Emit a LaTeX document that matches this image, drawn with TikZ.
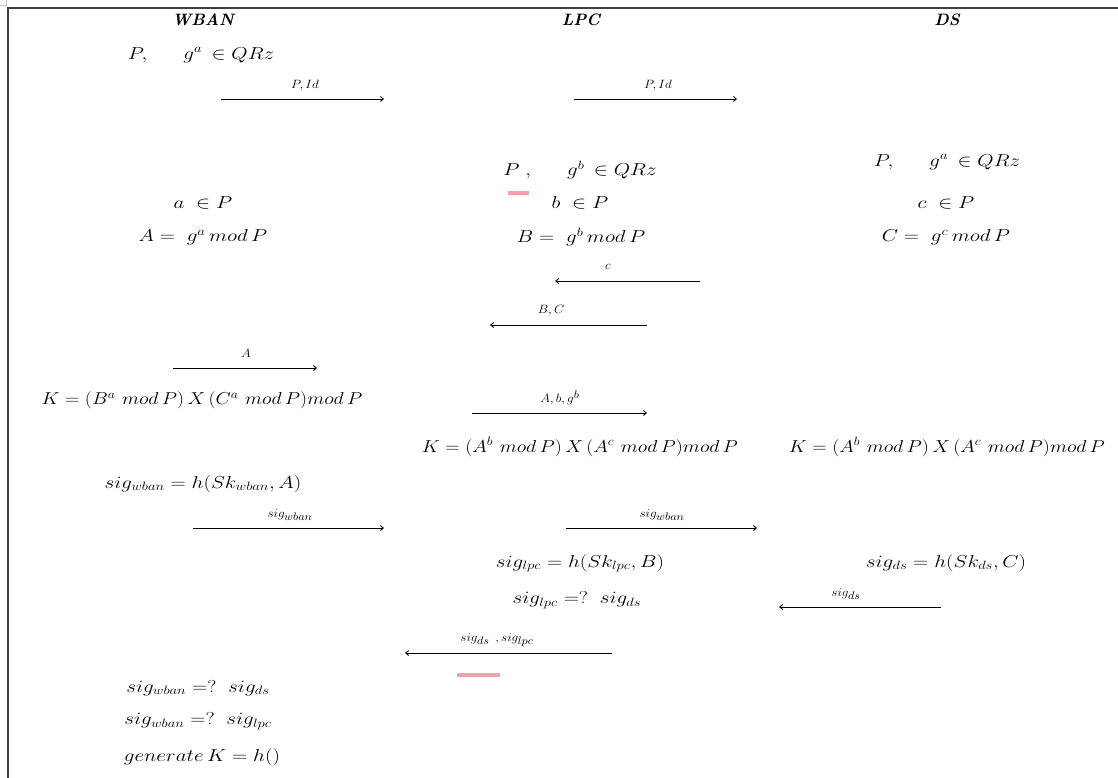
\documentclass[tikz,border=0pt]{standalone}
\usetikzlibrary{arrows.meta}
\DeclareMathSizes{17}{17}{13}{10}
\DeclareMathSizes{12}{12}{10.5}{8}
\definecolor{framegray}{HTML}{3F3F3F}
\definecolor{markgray}{HTML}{C8C8C8}
\definecolor{flagpink}{HTML}{F2A2AD}
\tikzset{
  txt/.style={font=\fontsize{17}{19}\selectfont, inner sep=0pt, anchor=center, xscale=1.22, transform shape},
  keyf/.style={font=\fontsize{17}{19}\selectfont, inner sep=0pt, anchor=center, xscale=1.15, transform shape},
  head/.style={font=\fontsize{16.5}{18}\selectfont\bfseries\itshape, inner sep=0pt},
  lbl/.style={font=\fontsize{12}{13}\selectfont, inner sep=0pt, xscale=1.1, transform shape},
  msg/.style={-{Straight Barb[length=3pt,width=5pt]}, line width=0.9pt, black},
  flag/.style={fill=flagpink, draw=none}
}
\begin{document}
\begin{tikzpicture}[x=1pt,y=-1pt]
\useasboundingbox (0,0) rectangle (1118,778);
% frame and corner mark
\draw[markgray, line width=1pt] (0,6) -- (7,6) (6,0) -- (6,7);
\draw[framegray, line width=2pt] (8,778) -- (8,8) -- (1118,8);

% party headings
\node[head] (hw) at (203,20) {WBAN};
\node[head] (hl) at (581,20) {LPC};
\node[head] (hd) at (947,20) {DS};

% WBAN column
\node[txt] (w1) at (201,55) {$P,\quad\;\; g^{a}\,\in QRz$};
\node[txt] (w2) at (203,203) {$a\;\in P$};
\node[txt] (w3) at (203,237) {$A =\; g^{a}\,mod\,P$};
\node[keyf] (w4) at (202,400) {$K = (B^{a}\,\,mod\,P)\,X\,(C^{a}\,\,mod\,P)mod\,P$};
\node[txt] (w5) at (203,484) {$sig_{wban} = h(Sk_{wban},A)$};
\node[txt] (w6) at (198,688) {$sig_{wban} \mathrel{=?}\; sig_{ds}$};
\node[txt] (w7) at (198,721) {$sig_{wban} \mathrel{=?}\; sig_{lpc}$};
\node[txt] (w8) at (202,757) {$generate\,K = h()$};

% LPC column
\node[txt] (l1) at (580,170) {$P\;,\quad\;\; g^{b}\,\in QRz$};
\node[txt] (l2) at (580,203) {$b\;\in P$};
\node[txt] (l3) at (581,237) {$B =\; g^{b}\,mod\,P$};
\node[keyf] (l4) at (580,447) {$K = (A^{b}\,\,mod\,P)\,X\,(A^{c}\,\,mod\,P)mod\,P$};
\node[txt] (l5) at (580,563) {$sig_{lpc} = h(Sk_{lpc},B)$};
\node[txt] (l6) at (577,600) {$sig_{lpc} \mathrel{=?}\; sig_{ds}$};

% DS column
\node[txt] (d1) at (947,162) {$P,\quad\;\; g^{a}\,\in QRz$};
\node[txt] (d2) at (946,203) {$c\;\in P$};
\node[txt] (d3) at (946,237) {$C =\; g^{c}\,mod\,P$};
\node[keyf] (d4) at (947,447) {$K = (A^{b}\,\,mod\,P)\,X\,(A^{c}\,\,mod\,P)mod\,P$};
\node[txt] (d5) at (946,563) {$sig_{ds} = h(Sk_{ds},C)$};

% highlight marks
\fill[flag] (508,191) rectangle (529,195);
\fill[flag] (457,673) rectangle (500,677);

% message arrow end points
\coordinate (m1a) at (221,99);  \coordinate (m1b) at (384,99);
\coordinate (m2a) at (574,99);  \coordinate (m2b) at (737,99);
\coordinate (m3a) at (700,281); \coordinate (m3b) at (555,281);
\coordinate (m4a) at (647,325); \coordinate (m4b) at (490,325);
\coordinate (m5a) at (173,368); \coordinate (m5b) at (317,368);
\coordinate (m6a) at (472,413); \coordinate (m6b) at (647,413);
\coordinate (m7a) at (193,528); \coordinate (m7b) at (384,528);
\coordinate (m8a) at (566,528); \coordinate (m8b) at (757,528);
\coordinate (m9a) at (941,607); \coordinate (m9b) at (779,607);
\coordinate (m10a) at (612,653); \coordinate (m10b) at (405,653);

% messages
\draw[msg] (m1a) -- (m1b);
\node[lbl] (t1) at (305,86) {$P,Id$};
\draw[msg] (m2a) -- (m2b);
\node[lbl] (t2) at (658,86) {$P,Id$};
\draw[msg] (m3a) -- (m3b);
\node[lbl] (t3) at (608,267) {$c$};
\draw[msg] (m4a) -- (m4b);
\node[lbl] (t4) at (551,311) {$B,C$};
\draw[msg] (m5a) -- (m5b);
\node[lbl] (t5) at (246,353) {$A$};
\draw[msg] (m6a) -- (m6b);
\node[lbl] (t6) at (560,398) {$A,b,g^{b}$};
\draw[msg] (m7a) -- (m7b);
\node[lbl] (t7) at (290,515) {$sig_{wban}$};
\draw[msg] (m8a) -- (m8b);
\node[lbl] (t8) at (662,515) {$sig_{wban}$};
\draw[msg] (m9a) -- (m9b);
\node[lbl] (t9) at (846,594) {$sig_{ds}$};
\draw[msg] (m10a) -- (m10b);
\node[lbl] (t10) at (497,640) {$sig_{ds}\;\,,sig_{lpc}$};
\end{tikzpicture}
\end{document}
